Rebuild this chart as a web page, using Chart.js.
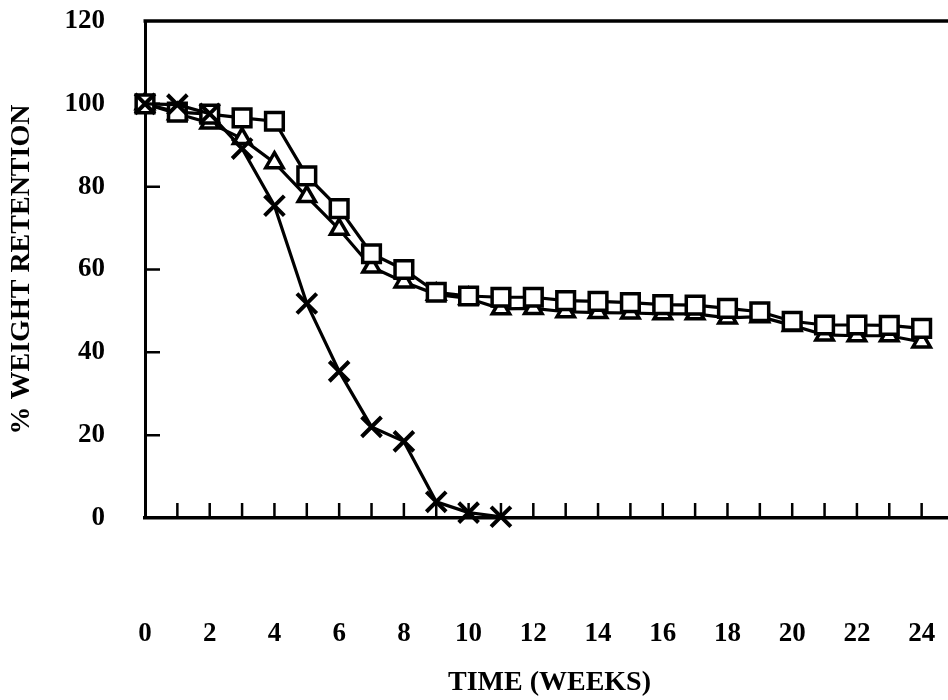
<!DOCTYPE html>
<html>
<head>
<meta charset="utf-8">
<script src="https://cdn.jsdelivr.net/npm/chart.js@4"></script>
<style>
  html, body { margin: 0; padding: 0; background: #fff; overflow: hidden; }
  #wrap { position: relative; width: 956px; height: 700px; }
</style>
</head>
<body>
<div id="wrap"><canvas id="c"></canvas></div>
<script>
// ---- data ----
const weeks = [0,1,2,3,4,5,6,7,8,9,10,11,12,13,14,15,16,17,18,19,20,21,22,23,24];
const squareValues = [100, 98, 97.5, 96.6, 95.8, 82.6, 74.7, 63.8, 60, 54.5, 53.6, 53.3, 53.3, 52.5, 52.3, 52, 51.5, 51.4, 50.6, 49.8, 47.5, 46.6, 46.6, 46.5, 45.8];
const triangleValues = [100, 97.6, 95.4, 91.6, 85.8, 77.6, 69.7, 60.6, 57, 54, 53, 50.5, 50.6, 49.8, 49.6, 49.5, 49.3, 49.3, 48.3, 48.6, 46.5, 44.2, 44, 44, 42.5];
const crossValues = [100, 99.8, 97.6, 89.2, 75.4, 51.8, 35.4, 22, 18.5, 3.9, 1.3, 0.3];
const xTickLabels = [0,2,4,6,8,10,12,14,16,18,20,22,24];
const yTickLabels = [0,20,40,60,80,100,120];
const xTitle = 'TIME (WEEKS)';
const yTitle = '% WEIGHT RETENTION';

const toPoints = vals => vals.map((v, i) => ({ x: weeks[i], y: v }));
const FONT = "'Liberation Serif', 'Times New Roman', serif";

const innerTicks = {
  id: 'innerTicks',
  beforeDatasetsDraw(chart) {
    const { ctx, chartArea: a, scales: { x, y } } = chart;
    ctx.save();
    ctx.strokeStyle = '#000';
    ctx.lineWidth = 2.5;
    ctx.beginPath();
    for (let w = 1; w <= 24; w++) {
      const px = x.getPixelForValue(w);
      ctx.moveTo(px, a.bottom);
      ctx.lineTo(px, a.bottom - 15);
    }
    yTickLabels.forEach(v => {
      if (v === 0 || v === 120) return;
      const py = y.getPixelForValue(v);
      ctx.moveTo(a.left, py);
      ctx.lineTo(a.left + 15, py);
    });
    ctx.stroke();
    // top border of the box
    ctx.lineWidth = 3.5;
    ctx.beginPath();
    ctx.moveTo(a.left - 1.5, a.top);
    ctx.lineTo(a.right, a.top);
    ctx.stroke();
    ctx.restore();
  }
};

new Chart(document.getElementById('c'), {
  type: 'scatter',
  data: {
    datasets: [
      {
        label: 'X',
        data: toPoints(crossValues),
        showLine: true,
        borderColor: '#000',
        borderWidth: 3.2,
        pointStyle: 'crossRot',
        pointRadius: 14,
        pointBorderWidth: 4,
        pointBorderColor: '#000',
        pointBackgroundColor: '#000',
        clip: false
      },
      {
        label: 'square',
        data: toPoints(squareValues),
        showLine: true,
        borderColor: '#000',
        borderWidth: 3.2,
        pointStyle: 'rect',
        pointRadius: 12.5,
        pointBorderWidth: 3.5,
        pointBorderColor: '#000',
        pointBackgroundColor: '#fff',
        clip: false
      },
      {
        label: 'triangle',
        data: toPoints(triangleValues),
        showLine: true,
        borderColor: '#000',
        borderWidth: 3.2,
        pointStyle: 'triangle',
        pointRadius: 10,
        pointBorderWidth: 3.5,
        pointBorderColor: '#000',
        pointBackgroundColor: '#fff',
        clip: false
      }
    ]
  },
  options: {
    responsive: true,
    maintainAspectRatio: false,
    animation: false,
    events: [],
    layout: { autoPadding: false, padding: { left: 0, right: 2, top: 21, bottom: 0 } },
    plugins: { legend: { display: false }, tooltip: { enabled: false } },
    scales: {
      x: {
        type: 'linear',
        min: 0,
        max: 25,
        afterFit(s) { s.height = 182; s.paddingLeft = 0; s.paddingRight = 0; },
        border: { display: true, color: '#000', width: 3.5 },
        grid: { display: false, drawTicks: true, tickLength: 98 },
        ticks: {
          stepSize: 1,
          autoSkip: false,
          maxRotation: 0,
          padding: 2,
          color: '#000',
          font: { family: FONT, size: 27, weight: 'bold' },
          callback: v => xTickLabels.includes(v) ? String(v) : ''
        },
        title: {
          display: true,
          text: xTitle,
          color: '#000',
          padding: { top: 0, bottom: 0 },
          font: { family: FONT, size: 28, weight: 'bold' }
        }
      },
      y: {
        type: 'linear',
        min: 0,
        max: 120,
        afterFit(s) { s.width = 145; s.paddingTop = 0; s.paddingBottom = 0; },
        border: { display: true, color: '#000', width: 3 },
        grid: { display: false, drawTicks: true, tickLength: 38 },
        ticks: {
          stepSize: 20,
          padding: 2,
          color: '#000',
          font: { family: FONT, size: 27, weight: 'bold' },
          callback: v => yTickLabels.includes(v) ? String(v) : ''
        },
        title: {
          display: true,
          text: yTitle,
          color: '#000',
          padding: { top: 5, bottom: 0 },
          font: { family: FONT, size: 28, weight: 'bold' }
        }
      }
    }
  },
  plugins: [innerTicks]
});
</script>
</body>
</html>
